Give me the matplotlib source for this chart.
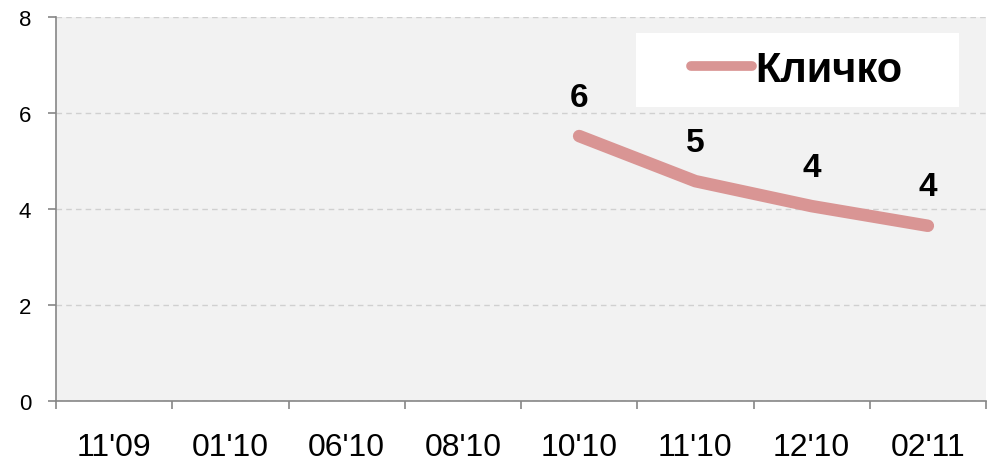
import numpy as np
import matplotlib
matplotlib.use("Agg")
import matplotlib.pyplot as plt
from matplotlib.ticker import FixedLocator
from matplotlib.patches import Rectangle
from matplotlib.lines import Line2D

plt.rcParams['font.family'] = ['Liberation Sans', 'DejaVu Sans']

# данные
months = ["11'09", "01'10", "06'10", "08'10", "10'10", "11'10", "12'10", "02'11"]
klitschko = [None, None, None, None, 5.52, 4.58, 4.06, 3.65]
labels = ["6", "5", "4", "4"]

W, H = 991, 464
fig = plt.figure(figsize=(W / 100, H / 100), dpi=100)
ax = fig.add_axes([56/W, 1 - 402/H, 930/W, 384/H])
ax.set_facecolor('#f2f2f2')

xs = [i for i, v in enumerate(months) if klitschko[i] is not None]
ys = [klitschko[i] for i in xs]
ax.plot(xs, ys, color='#d99594', lw=9, solid_capstyle='round',
        solid_joinstyle='round', zorder=3)

for x, y, t in zip(xs, ys, labels):
    ax.annotate(t, (x, y), xytext=(0, 28), textcoords='offset points',
                ha='center', va='center', fontsize=24, fontweight='bold')

ax.set_xlim(-0.5, len(months) - 0.5)
ax.set_ylim(0, 8)
ax.set_yticks([0, 2, 4, 6, 8])
ax.yaxis.grid(True, color='#d0d0d0', linestyle=(0, (4, 3)), lw=1)
ax.set_axisbelow(True)

ax.set_xticks(range(len(months)))
ax.set_xticklabels(months, fontsize=23)
ax.xaxis.set_minor_locator(FixedLocator(np.arange(-0.5, len(months), 1)))
ax.tick_params(axis='x', which='major', length=0, pad=22)
ax.tick_params(axis='x', which='minor', length=6, color='#868686', width=1.2)
ax.tick_params(axis='y', length=6, color='#868686', width=1.2, labelsize=16, pad=12)

for s in ['top', 'right']:
    ax.spines[s].set_visible(False)
for s in ['left', 'bottom']:
    ax.spines[s].set_color('#868686')
    ax.spines[s].set_linewidth(1.2)

# белая подложка легенды
fig.patches.append(Rectangle((636/W, 1 - 108/H), 323/W, 74/H, transform=fig.transFigure,
                             facecolor='white', edgecolor='none', zorder=5))
handle = Line2D([], [], color='#d99594', lw=7, solid_capstyle='round')
leg = fig.legend(handles=[handle], labels=['Кличко'], loc='center',
                 bbox_to_anchor=(797/W, 1 - 71/H),
                 frameon=False, prop={'size': 30, 'weight': 'bold'},
                 handlelength=1.45, handletextpad=0.1, borderpad=0)
leg.set_zorder(6)

fig.savefig('out.png', dpi=100)
